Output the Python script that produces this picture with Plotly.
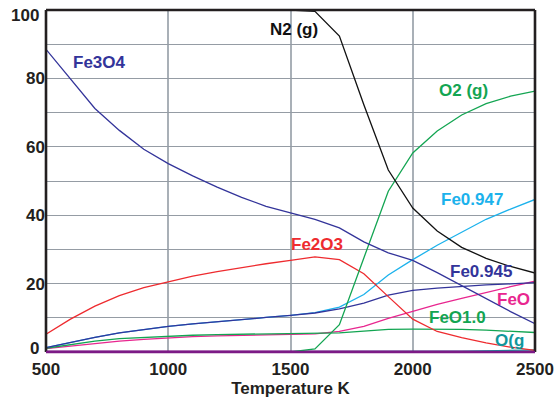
import plotly.graph_objects as go

# Temperature grid (K)
temperature = [500, 600, 700, 800, 900, 1000, 1100, 1200, 1300, 1400, 1500,
               1600, 1700, 1800, 1900, 2000, 2100, 2200, 2300, 2400, 2500]

# Species amounts (%) at each temperature
fe3o4 = [88.5, 79.8, 71.2, 64.8, 59.3, 55.1, 51.5, 48.2, 45.2, 42.6, 40.6,
         38.8, 36.3, 32.2, 29.0, 26.8, 23.2, 19.4, 15.6, 11.8, 8.3]
fe2o3 = [5.2, 9.6, 13.4, 16.5, 18.8, 20.6, 22.2, 23.5, 24.7, 25.8, 26.8,
         27.8, 27.0, 22.9, 16.2, 9.6, 6.0, 4.2, 2.7, 1.4, 0.5]
fe0945 = [1.3, 2.9, 4.3, 5.6, 6.6, 7.5, 8.2, 8.9, 9.5, 10.1, 10.7,
          11.4, 12.6, 14.3, 16.6, 18.0, 18.7, 19.2, 19.6, 19.9, 20.3]
fe0947 = [1.3, 2.9, 4.3, 5.6, 6.6, 7.5, 8.2, 8.9, 9.5, 10.1, 10.7,
          11.5, 13.1, 16.8, 22.5, 27.0, 31.2, 35.0, 38.8, 41.8, 44.6]
feo = [1.0, 1.8, 2.6, 3.2, 3.7, 4.2, 4.5, 4.7, 4.9, 5.0, 5.1,
       5.3, 6.0, 7.5, 9.8, 11.9, 13.9, 15.7, 17.5, 19.1, 20.7]
feo10 = [1.1, 2.2, 3.2, 3.9, 4.3, 4.6, 4.9, 5.1, 5.2, 5.2, 5.2,
         5.3, 5.6, 6.1, 6.6, 6.7, 6.7, 6.6, 6.4, 6.1, 5.7]
o2 = [0, 0, 0, 0, 0, 0, 0, 0, 0, 0, 0,
      0.9, 8.0, 27.5, 47.0, 58.2, 64.6, 69.3, 72.6, 74.8, 76.3]
n2 = [100, 100, 100, 100, 100, 100, 100, 100, 100, 100, 100,
      99.6, 92.4, 72.3, 53.2, 42.1, 35.4, 30.6, 27.4, 25.0, 23.1]
o_gas = [0, 0, 0, 0, 0, 0, 0, 0, 0, 0, 0,
         0, 0, 0, 0, 0, 0.1, 0.2, 0.35, 0.5, 0.65]
baseline = [0] * len(temperature)

# Axis ticks (the end labels 0 and 100 are set inside the frame separately)
x_ticks = [500, 1000, 1500, 2000, 2500]
y_ticks = [0, 10, 20, 30, 40, 50, 60, 70, 80, 90, 100]
y_tick_text = ["", "", "20", "", "40", "", "60", "", "80", "", ""]
y_end_labels = [(0, "0", 3.5), (100, "100", -5.5)]

NAVY = "#33349a"
CYAN = "#1cb2ec"
RED = "#ee2b2f"
PINK = "#e8268f"
GREEN = "#13a552"
TEAL = "#11969c"
PURPLE = "#7c1a86"
FRAME = "#231f20"

series = [
    ("baseline", baseline, PURPLE, 3),
    ("O(g)", o_gas, TEAL, 1.3),
    ("Fe0.947", fe0947, CYAN, 1.3),
    ("FeO", feo, PINK, 1.3),
    ("FeO1.0", feo10, GREEN, 1.3),
    ("Fe0.945", fe0945, NAVY, 1.3),
    ("Fe2O3", fe2o3, RED, 1.3),
    ("O2 (g)", o2, GREEN, 1.3),
    ("Fe3O4", fe3o4, NAVY, 1.3),
    ("N2 (g)", n2, "#111111", 1.3),
]

fig = go.Figure()
for name, values, color, width in series:
    fig.add_trace(go.Scatter(x=temperature, y=values, mode="lines", name=name,
                             line=dict(color=color, width=width),
                             showlegend=False, hoverinfo="skip"))

# In-plot species labels
labels = [
    ("Fe3O4", 717, 84.6, NAVY),
    ("N2 (g)", 1514, 94.2, "#111111"),
    ("O2 (g)", 2206, 76.4, GREEN),
    ("Fe0.947", 2242, 44.6, CYAN),
    ("Fe2O3", 1608, 31.4, RED),
    ("Fe0.945", 2279, 23.5, NAVY),
    ("FeO", 2410, 15.3, PINK),
    ("FeO1.0", 2185, 10.0, GREEN),
    ("O(g", 2394, 3.5, TEAL),
]
for text, x, y, color in labels:
    fig.add_annotation(x=x, y=y, text=text, showarrow=False,
                       xanchor="center", yanchor="middle",
                       font=dict(family="Liberation Sans, Arial", size=17,
                                 color=color, weight="bold"))

axis_font = dict(family="Liberation Sans, Arial", size=17, color=FRAME,
                 weight="bold")

# End labels of the y axis, nudged inward to clear the corners
for value, text, shift in y_end_labels:
    fig.add_annotation(x=0, xref="paper", y=value, yref="y", text=text,
                       showarrow=False, xanchor="right", yanchor="middle",
                       xshift=-5, yshift=shift, font=axis_font)

# Plot frame: dark on three sides, purple along the zero line
frame = [
    (0, 0, 0, 1, FRAME),
    (0, 1, 1, 1, FRAME),
    (1, 0, 1, 1, FRAME),
    (0, 0, 1, 0, PURPLE),
]
for x0, y0, x1, y1, color in frame:
    fig.add_shape(type="line", xref="paper", yref="paper",
                  x0=x0, y0=y0, x1=x1, y1=y1, layer="above",
                  line=dict(color=color, width=2.6))

fig.update_layout(
    width=555, height=402,
    margin=dict(l=46, r=20, t=10, b=50),
    paper_bgcolor="white", plot_bgcolor="white",
    xaxis=dict(range=[500, 2500], tickvals=x_ticks, automargin=False,
               showgrid=True, gridcolor="#a9b0b7", gridwidth=1.5,
               showline=False, ticks="", tickfont=axis_font, zeroline=False,
               ticklabelstandoff=5,
               title=dict(text="Temperature K", font=axis_font, standoff=4)),
    yaxis=dict(range=[0, 100], tickvals=y_ticks, ticktext=y_tick_text,
               automargin=False,
               showgrid=True, gridcolor="#959ca4", gridwidth=1.3,
               showline=False, ticks="", tickfont=axis_font, zeroline=False),
)

fig.write_html("out.html")
